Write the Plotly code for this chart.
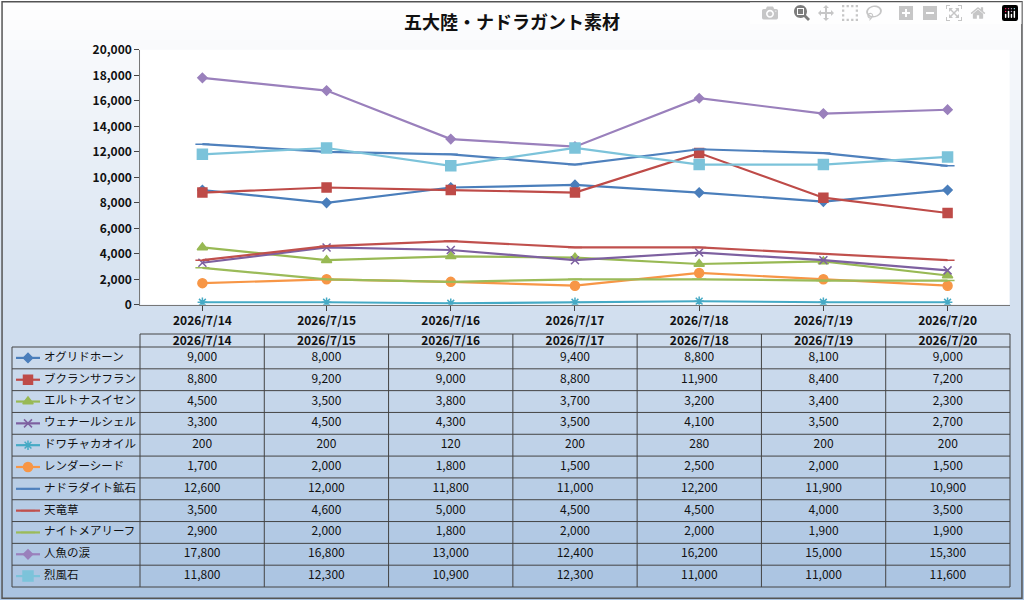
import plotly.graph_objects as go

dates = ["2026/7/14","2026/7/15","2026/7/16","2026/7/17","2026/7/18","2026/7/19","2026/7/20"]
names = ["オグリドホーン","ブクランサフラン","エルトナスイセン","ウェナールシェル","ドワチャカオイル","レンダーシード",
         "ナドラダイト鉱石","天竜草","ナイトメアリーフ","人魚の涙","烈風石"]
v_oguri = [9000,8000,9200,9400,8800,8100,9000]
v_buku = [8800,9200,9000,8800,11900,8400,7200]
v_eru = [4500,3500,3800,3700,3200,3400,2300]
v_wena = [3300,4500,4300,3500,4100,3500,2700]
v_dowa = [200,200,120,200,280,200,200]
v_rend = [1700,2000,1800,1500,2500,2000,1500]
v_nadora = [12600,12000,11800,11000,12200,11900,10900]
v_tenryu = [3500,4600,5000,4500,4500,4000,3500]
v_night = [2900,2000,1800,2000,2000,1900,1900]
v_ningyo = [17800,16800,13000,12400,16200,15000,15300]
v_reppu = [11800,12300,10900,12300,11000,11000,11600]
values = [v_oguri,v_buku,v_eru,v_wena,v_dowa,v_rend,v_nadora,v_tenryu,v_night,v_ningyo,v_reppu]
y_ticks = list(range(0,20001,2000))

colors = ["#4A7EBB","#BE4B48","#98B954","#7D60A0","#46AAC5","#F79646",
          "#4F81BD","#C0504D","#9BBB59","#9A80BC","#7CC3DA"]
symbols = ["diamond","square","triangle-up","x-thin-open","asterisk-open","circle",
           "line-ew-open","line-ew-open","line-ew-open","diamond","square"]
sizes = [7,9,9,8,8,9,10,10,10,7,10]

fig = go.Figure()
for n,v,c,s,sz in zip(names,values,colors,symbols,sizes):
    fig.add_trace(go.Scatter(x=dates,y=v,mode="lines+markers",name=n,
        line=dict(color=c,width=2.2),marker=dict(symbol=s,size=sz,color=c,line=dict(color=c,width=1.5)),
        showlegend=False))

shapes=[]
N=60
top=(255,255,255); bot=(170,195,225)
for i in range(N):
    t=i/(N-1)
    col="rgb(%d,%d,%d)"%tuple(int(top[k]+(bot[k]-top[k])*t) for k in range(3))
    shapes.append(dict(type="rect",xref="paper",yref="paper",x0=0,x1=1,y0=1-(i+1)/N-0.001,y1=1-i/N,
                       fillcolor=col,line=dict(width=0),layer="below"))
X0,X1,Y0,Y1=0.137,0.986,0.492,0.917
shapes.append(dict(type="rect",xref="paper",yref="paper",x0=X0,x1=X1,y0=Y0,y1=Y1,fillcolor="white",line=dict(width=0),layer="below"))
shapes.append(dict(type="rect",xref="paper",yref="paper",x0=0.002,x1=0.998,y0=0.003,y1=0.997,line=dict(color="#555",width=1.5),fillcolor="rgba(0,0,0,0)"))

L,C0,R=12,140,1010
cw=(R-C0)/7
htop,hbot=334,347
rh=(587-hbot)/11
tl=dict(color="#444",width=1)
def ln(x0,y0,x1,y1): shapes.append(dict(type="line",xref="x2",yref="y2",x0=x0,y0=y0,x1=x1,y1=y1,line=tl))
ln(C0,htop,R,htop)
for i in range(12): ln(L,hbot+i*rh,R,hbot+i*rh)
ln(L,hbot,L,587)
for j in range(8): ln(C0+j*cw,htop,C0+j*cw,587)

tx=[];ty=[];tt=[]
for j,d in enumerate(dates):
    tx.append(C0+(j+0.5)*cw); ty.append((htop+hbot)/2+1); tt.append("<b>"+d+"</b>")
for i,v in enumerate(values):
    for j,val in enumerate(v):
        tx.append(C0+(j+0.5)*cw); ty.append(hbot+(i+0.5)*rh); tt.append(f"{val:,}")
fig.add_trace(go.Scatter(x=tx,y=ty,xaxis="x2",yaxis="y2",mode="text",text=tt,
    textfont=dict(size=12,color="#111",family="Noto Sans CJK JP"),showlegend=False,hoverinfo="skip"))
for i,(n,c,s,sz) in enumerate(zip(names,colors,symbols,sizes)):
    yc=hbot+(i+0.5)*rh
    fig.add_trace(go.Scatter(x=[16,40],y=[yc,yc],xaxis="x2",yaxis="y2",mode="lines",line=dict(color=c,width=2.2),showlegend=False,hoverinfo="skip"))
    fig.add_trace(go.Scatter(x=[28],y=[yc],xaxis="x2",yaxis="y2",mode="markers",
        marker=dict(symbol=s,size=sz,color=c,line=dict(color=c,width=1.5)),showlegend=False,hoverinfo="skip"))
    fig.add_trace(go.Scatter(x=[44],y=[yc],xaxis="x2",yaxis="y2",mode="text",text=[n],textposition="middle right",
        textfont=dict(size=11.5,color="#111",family="Noto Sans CJK JP"),showlegend=False,hoverinfo="skip"))

fig.update_layout(
    width=1024,height=600,margin=dict(l=0,r=0,t=0,b=0,autoexpand=False),
    paper_bgcolor="white",plot_bgcolor="rgba(0,0,0,0)",
    font=dict(family="Noto Sans CJK JP",color="#111"),
    title=dict(text="<b>五大陸・ナドラガント素材</b>",x=0.5,y=0.963,xanchor="center",yanchor="middle",font=dict(size=18,color="#111")),
    xaxis=dict(domain=[X0,X1],type="category",showgrid=False,showline=True,linecolor="#777",ticks="outside",automargin=False,
               tickfont=dict(size=12),tickvals=dates,ticktext=["<b>"+d+"</b>" for d in dates],range=[-0.5,6.5],anchor="y"),
    yaxis=dict(domain=[Y0,Y1],range=[0,20000],tickvals=y_ticks,ticktext=["<b>"+f"{t:,}"+"</b>" for t in y_ticks],automargin=False,
               showgrid=False,showline=True,linecolor="#777",ticks="outside",tickfont=dict(size=12),zeroline=False,anchor="x"),
    xaxis2=dict(domain=[0,1],range=[0,1024],visible=False,anchor="y2"),
    yaxis2=dict(domain=[0,1],range=[600,0],visible=False,anchor="x2"),
    shapes=shapes)
fig.write_html("out.html")
with open("out.html",encoding="utf-8") as f: h=f.read()
h=h.replace("<body>",'<body style="margin:0;overflow:hidden">',1)
with open("out.html","w",encoding="utf-8") as f: f.write(h)
